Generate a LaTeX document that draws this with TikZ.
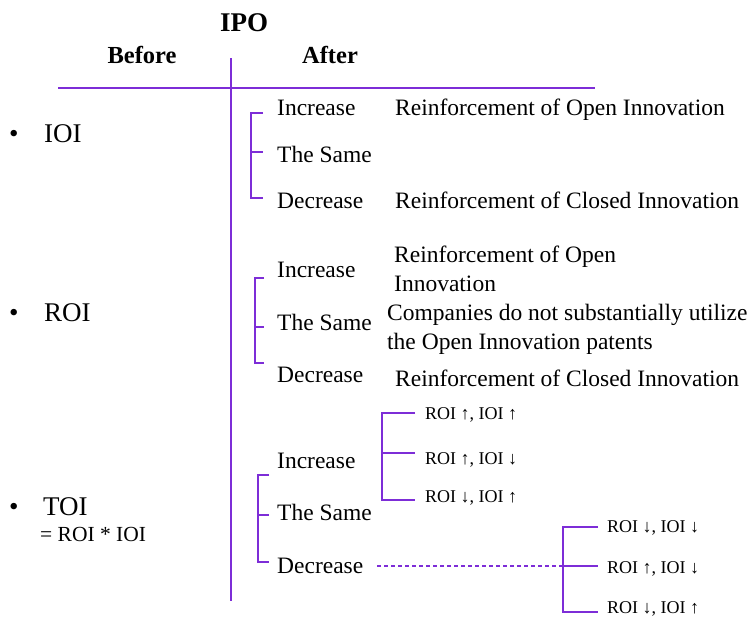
\documentclass[tikz,border=0pt]{standalone}
\usepackage{fontspec}
\setmainfont{Liberation Serif}
\definecolor{lp}{RGB}{125,45,215}
\begin{document}
\begin{tikzpicture}[x=1pt,y=-1pt,
  lbl/.style={anchor=base west, inner sep=0pt, font=\fontsize{23.5}{28}\selectfont},
  sublbl/.style={anchor=base west, inner sep=0pt, font=\fontsize{18}{21}\selectfont},
  biglbl/.style={anchor=base west, inner sep=0pt, font=\fontsize{27}{32}\selectfont},
  head/.style={anchor=base, inner sep=0pt, font=\fontsize{24.5}{29}\selectfont\bfseries},
  axis/.style={draw=lp, line width=1.8pt},
  br/.style={draw=lp, line width=1.5pt},
  dsh/.style={draw=lp, line width=1.3pt, dash pattern=on 4pt off 3pt}
]
\useasboundingbox (0,0) rectangle (755,619);

% headings
\node[head, font=\fontsize{27}{32}\selectfont\bfseries] (ipo) at (244,31) {IPO};
\node[head] (before) at (142,63) {Before};
\node[head] (after) at (330,63) {After};

% axes
\coordinate (hl) at (58,88);
\coordinate (hr) at (595,88);
\coordinate (vt) at (231,58);
\coordinate (vb) at (231,601);
\draw[axis] (hl) -- (hr);
\draw[axis] (vt) -- (vb);

% left column
\node[biglbl] (bul1) at (9,142) {•};
\node[biglbl] (ioi) at (44,142) {IOI};
\node[biglbl] (bul2) at (9,321) {•};
\node[biglbl] (roi) at (44,321) {ROI};
\node[biglbl] (bul3) at (9,515) {•};
\node[biglbl] (toi) at (43,515) {TOI};
\node[anchor=base west, inner sep=0pt, font=\fontsize{21.5}{25}\selectfont] (eq) at (40,541) {= ROI * IOI};

% IOI section
\node[lbl] (i1) at (277,115) {Increase};
\node[lbl] (i2) at (277,162) {The Same};
\node[lbl] (i3) at (277,208) {Decrease};
\node[lbl] (ir1) at (395,115) {Reinforcement of Open Innovation};
\node[lbl] (ir3) at (395,208) {Reinforcement of Closed Innovation};
\coordinate (ia) at (263,113);
\coordinate (ib) at (263,152);
\coordinate (ic) at (263,198);
\coordinate (is) at (251,0);
\draw[br] (ia) -- (ia -| is) -- (ic -| is) -- (ic);
\draw[br] (ib -| is) -- (ib);

% ROI section
\node[lbl] (j1) at (277,277) {Increase};
\node[lbl] (j2) at (277,330) {The Same};
\node[lbl] (j3) at (277,382) {Decrease};
\node[lbl] (jr1a) at (394,262) {Reinforcement of Open};
\node[lbl] (jr1b) at (394,291) {Innovation};
\node[lbl] (jr2a) at (387,320) {Companies do not substantially utilize};
\node[lbl] (jr2b) at (387,349) {the Open Innovation patents};
\node[lbl] (jr3) at (395,386) {Reinforcement of Closed Innovation};
\coordinate (ja) at (264,278);
\coordinate (jb) at (264,327);
\coordinate (jc) at (264,363);
\coordinate (js) at (255,0);
\draw[br] (ja) -- (ja -| js) -- (jc -| js) -- (jc);
\draw[br] (jb -| js) -- (jb);

% TOI section
\node[lbl] (k1) at (277,468) {Increase};
\node[lbl] (k2) at (277,520) {The Same};
\node[lbl] (k3) at (277,573) {Decrease};
\coordinate (ka) at (269,475);
\coordinate (kb) at (269,515);
\coordinate (kc) at (269,562);
\coordinate (ks) at (258,0);
\draw[br] (ka) -- (ka -| ks) -- (kc -| ks) -- (kc);
\draw[br] (kb -| ks) -- (kb);

% sub bracket 1
\node[sublbl] (u1) at (425,419) {ROI ↑, IOI ↑};
\node[sublbl] (u2) at (425,464) {ROI ↑, IOI ↓};
\node[sublbl] (u3) at (425,502) {ROI ↓, IOI ↑};
\coordinate (ua) at (415,413);
\coordinate (ub) at (415,453);
\coordinate (uc) at (415,500);
\coordinate (us) at (382,0);
\draw[br] (ua) -- (ua -| us) -- (uc -| us) -- (uc);
\draw[br] (ub -| us) -- (ub);

% sub bracket 2
\node[sublbl] (v1) at (607,532) {ROI ↓, IOI ↓};
\node[sublbl] (v2) at (607,573) {ROI ↑, IOI ↓};
\node[sublbl] (v3) at (607,613) {ROI ↓, IOI ↑};
\coordinate (va) at (598,527);
\coordinate (vbm) at (598,566);
\coordinate (vc) at (598,612);
\coordinate (vs) at (563,0);
\draw[br] (va) -- (va -| vs) -- (vc -| vs) -- (vc);
\draw[br] (vbm -| vs) -- (vbm);

% dashed link
\coordinate (d0) at (377,566);
\draw[dsh] (d0) -- (vbm -| vs);
\end{tikzpicture}
\end{document}
